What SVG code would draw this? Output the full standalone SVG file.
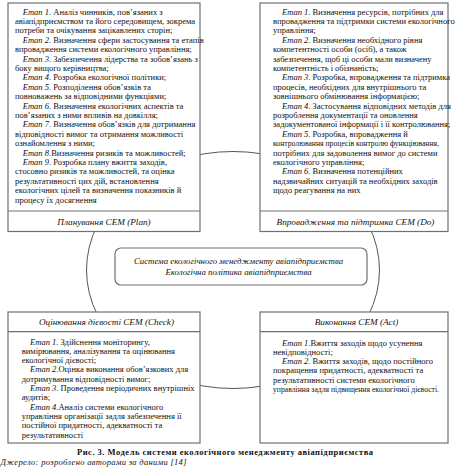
<svg xmlns="http://www.w3.org/2000/svg" width="455" height="471" viewBox="0 0 455 471">
<style>
.bg{fill:#fff}
.box{fill:#fff;stroke:#707070;stroke-width:1.2}
.div{stroke:#707070;stroke-width:1.2;fill:none}
.t{font-family:"Liberation Serif","Times New Roman",serif;font-size:8.5px;fill:#111}
.s{font-size:7.9px}
.i{font-style:italic}
.title{font-family:"Liberation Serif","Times New Roman",serif;font-size:9.2px;font-style:italic;fill:#111;text-anchor:middle}
.ctr{font-family:"Liberation Serif","Times New Roman",serif;font-size:8.8px;font-style:italic;fill:#111;text-anchor:middle}
.arc{fill:none;stroke:#555;stroke-width:1}
.cap{font-family:"Liberation Serif","Times New Roman",serif;font-size:8.5px;font-weight:bold;fill:#111;text-anchor:middle}
</style>
<rect class="bg" x="0" y="0" width="455" height="471"/>
<g id="connectors">
  <ellipse class="arc" cx="233" cy="270" rx="146.5" ry="118.5"/>
</g>
<g id="plan">
  <rect class="box" x="8" y="3" width="192" height="228.5"/>
  <line class="div" x1="8" y1="211" x2="200" y2="211"/>
  <text class="t">
    <tspan x="22.7" y="14.5"><tspan class="i">Етап 1</tspan>. Аналіз чинників, пов’язаних з</tspan>
    <tspan x="15" y="23.9">авіапідприємством та його середовищем, зокрема</tspan>
    <tspan x="15" y="33.3">потреби та очікування зацікавлених сторін;</tspan>
    <tspan x="22.7" y="42.7"><tspan class="i">Етап 2</tspan>.  Визначення сфери застосування та етапів</tspan>
    <tspan x="15" y="52.1">впровадження системи екологічного управління;</tspan>
    <tspan x="22.7" y="61.5"><tspan class="i">Етап 3</tspan>.  Забезпечення лідерства та зобов’язань з</tspan>
    <tspan x="15" y="70.9">боку вищого керівництва;</tspan>
    <tspan x="22.7" y="80.3"><tspan class="i">Етап 4</tspan>. Розробка екологічної політики;</tspan>
    <tspan x="22.7" y="89.7"><tspan class="i">Етап 5</tspan>. Розподілення обов’язків та</tspan>
    <tspan x="15" y="99.1">повноважень за відповідними функціями;</tspan>
    <tspan x="22.7" y="108.5"><tspan class="i">Етап 6</tspan>. Визначення екологічних аспектів та</tspan>
    <tspan x="15" y="117.9">пов’язаних з ними впливів на довкілля;</tspan>
    <tspan x="22.7" y="127.3"><tspan class="i">Етап 7</tspan>. Визначення обов’язків для дотримання</tspan>
    <tspan x="15" y="136.7">відповідності вимог та отримання можливості</tspan>
    <tspan x="15" y="146.1">ознайомлення з ними;</tspan>
    <tspan x="22.7" y="155.5"><tspan class="i">Етап 8</tspan>.Визначення ризиків та можливостей;</tspan>
    <tspan x="22.7" y="164.9"><tspan class="i">Етап 9</tspan>. Розробка плану вжиття заходів,</tspan>
    <tspan x="15" y="174.3">стосовно ризиків та можливостей, та оцінка</tspan>
    <tspan x="15" y="183.7">результативності цих дій, встановлення</tspan>
    <tspan x="15" y="193.1">екологічних цілей та визначення показників й</tspan>
    <tspan x="15" y="202.5">процесу їх досягнення</tspan>
  </text>
  <text class="title" x="104" y="224.8">Планування СЕМ (Plan)</text>
</g>
<g id="do">
  <rect class="box" x="260" y="3" width="188" height="228.5"/>
  <line class="div" x1="260" y1="211" x2="448" y2="211"/>
  <text class="t">
    <tspan x="282" y="14.5"><tspan class="i">Етап 1</tspan>. Визначення ресурсів, потрібних для</tspan>
    <tspan x="273" y="23.9">впровадження та підтримки системи екологічного</tspan>
    <tspan x="273" y="33.3">управління;</tspan>
    <tspan x="282" y="42.7"><tspan class="i">Етап 2</tspan>. Визначення необхідного рівня</tspan>
    <tspan x="273" y="52.1">компетентності особи (осіб), а також</tspan>
    <tspan x="273" y="61.5">забезпечення, щоб ці особи мали визначену</tspan>
    <tspan x="273" y="70.9">компетентність і обізнаність;</tspan>
    <tspan x="282" y="80.3"><tspan class="i">Етап 3</tspan>. Розробка, впровадження та підтримка</tspan>
    <tspan x="273" y="89.7">процесів, необхідних для внутрішнього та</tspan>
    <tspan x="273" y="99.1">зовнішнього обмінювання інформацією;</tspan>
    <tspan x="282" y="108.5"><tspan class="i">Етап 4</tspan>. Застосування відповідних методів для</tspan>
    <tspan x="273" y="117.9">розроблення документації та оновлення</tspan>
    <tspan x="273" y="127.3">задокументованої інформації і її контролювання;</tspan>
    <tspan x="282" y="136.7"><tspan class="i">Етап 5</tspan>. Розробка, впровадження й</tspan>
  </text>
  <text class="t s" x="273" y="146.1" textLength="166" lengthAdjust="spacingAndGlyphs">контролювання процесів контролю функціювання,</text>
  <text class="t">
    <tspan x="273" y="155.5">потрібних для задоволення вимог до системи</tspan>
    <tspan x="273" y="164.9">екологічного управління;</tspan>
    <tspan x="282" y="174.3"><tspan class="i">Етап 6</tspan>. Визначення потенційних</tspan>
    <tspan x="273" y="183.7">надзвичайних ситуацій та необхідних заходів</tspan>
    <tspan x="273" y="193.1">щодо реагування на них</tspan>
  </text>
  <text class="title" x="355.5" y="224.8">Впровадження та підтримка СЕМ (Do)</text>
</g>
<g id="core">
  <rect class="box" x="115" y="248" width="252" height="37" rx="6"/>
  <text class="ctr" x="238.5" y="264">Система екологічного менеджменту авіапідприємства</text>
  <text class="ctr" x="238.5" y="275">Екологічна політика авіапідприємства</text>
</g>
<g id="check">
  <rect class="box" x="8" y="312" width="192" height="131"/>
  <line class="div" x1="8" y1="331.7" x2="200" y2="331.7"/>
  <text class="title" x="106.5" y="324.8">Оцінювання дієвості СЕМ (Check)</text>
  <text class="t">
    <tspan x="30" y="344.5"><tspan class="i">Етап 1</tspan>. Здійснення моніторингу,</tspan>
    <tspan x="21.7" y="353.8">вимірювання, аналізування та оцінювання</tspan>
    <tspan x="21.7" y="363.1">екологічної дієвості;</tspan>
    <tspan x="30" y="372.4"><tspan class="i">Етап 2</tspan>.Оцінка виконання обов’язкових для</tspan>
    <tspan x="21.7" y="381.7">дотримування відповідності вимог;</tspan>
    <tspan x="30" y="391"><tspan class="i">Етап 3</tspan>. Проведення періодичних внутрішніх</tspan>
    <tspan x="21.7" y="400.3">аудитів;</tspan>
    <tspan x="30" y="409.6"><tspan class="i">Етап 4</tspan>.Аналіз системи екологічного</tspan>
    <tspan x="21.7" y="418.9">управління організації задля забезпечення її</tspan>
    <tspan x="21.7" y="428.2">постійної придатності, адекватності та</tspan>
    <tspan x="21.7" y="437.5">результативності</tspan>
  </text>
</g>
<g id="act">
  <rect class="box" x="260" y="312" width="188" height="131"/>
  <line class="div" x1="260" y1="331.7" x2="448" y2="331.7"/>
  <text class="title" x="356.5" y="324.8">Виконання СЕМ (Act)</text>
  <text class="t">
    <tspan x="282" y="345.5"><tspan class="i">Етап 1</tspan>.Вжиття заходів щодо усунення</tspan>
    <tspan x="273" y="354.8">невідповідності;</tspan>
    <tspan x="282" y="364.1"><tspan class="i">Етап 2</tspan>. Вжиття заходів, щодо постійного</tspan>
    <tspan x="273" y="373.4">покращення придатності, адекватності та</tspan>
    <tspan x="273" y="382.7">результативності системи екологічного</tspan>
  </text>
  <text class="t s" x="273" y="392" textLength="166" lengthAdjust="spacingAndGlyphs">управління задля підвищення екологічної дієвості.</text>
</g>
<g id="caption">
  <text class="cap" x="225" y="455" textLength="296" lengthAdjust="spacing">Рис. 3. Модель системи екологічного менеджменту авіапідприємства</text>
  <text class="t i" x="0.5" y="465" textLength="186" lengthAdjust="spacing">Джерело: розроблено авторами за даними [14]</text>
</g>
</svg>
